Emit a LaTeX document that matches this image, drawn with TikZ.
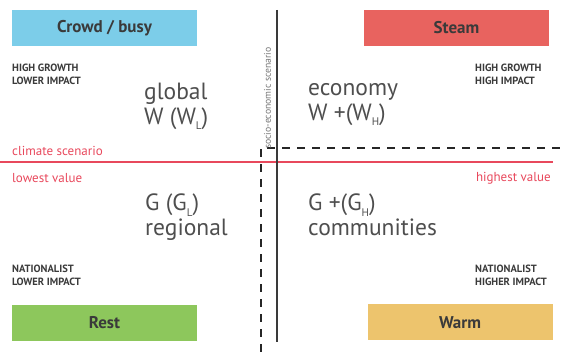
\documentclass[tikz,border=0pt]{standalone}
\usepackage{fontspec}
\setmainfont{PT Sans}
\definecolor{CrowdBlue}{HTML}{7CCDE9}
\definecolor{SteamRed}{HTML}{E8635F}
\definecolor{RestGreen}{HTML}{8DC75C}
\definecolor{WarmGold}{HTML}{EDC46D}
\definecolor{Ink}{HTML}{3A3A3A}
\definecolor{Climate}{HTML}{E8485C}
\usetikzlibrary{positioning}
\newcommand{\lowsub}[1]{\raisebox{-0.45ex}{\fontsize{11}{11}\selectfont #1}}

\begin{document}
\begin{tikzpicture}[
  x=1pt,y=-1pt,
  scen/.style={minimum width=185pt,minimum height=36pt,inner sep=0pt,
    text=Ink,font=\fontsize{17}{19}\selectfont\bfseries},
  tag/.style={anchor=west,align=left,inner sep=0pt,text=Ink,
    font=\fontsize{10.5}{13}\selectfont\bfseries},
  big/.style={anchor=north west,align=left,inner sep=0pt,text=Ink!90,
    font=\fontsize{23.5}{25}\selectfont},
  redlabel/.style={anchor=west,inner sep=0pt,text=Climate,
    font=\fontsize{13}{15}\selectfont},
  axis/.style={line width=1.3pt,draw=Ink},
  climate/.style={line width=1.2pt,draw=Climate},
  split/.style={line width=1.6pt,draw=black!85,dash pattern=on 8pt off 7pt}
]
\useasboundingbox (0,0) rectangle (566,352);
% four scenario boxes in the corners
\node[scen,fill=CrowdBlue] (crowd) at (104.5,28) {Crowd / busy};
\node[scen,fill=SteamRed] (steam) at (456.5,28) {Steam};
\node[scen,fill=RestGreen] (rest) at (104.5,323) {Rest};
\node[scen,fill=WarmGold] (warm) at (460,322.5) {Warm};

% corner tags
\node[tag] (tagnw) at (12,74) {HIGH GROWTH\\LOWER IMPACT};
\node[tag] (tagne) at (475,74) {HIGH GROWTH\\HIGH IMPACT};
\node[tag] (tagsw) at (12,275.5) {NATIONALIST\\LOWER IMPACT};
\node[tag] (tagse) at (475,275.5) {NATIONALIST\\HIGHER IMPACT};

% quadrant names
\node[big] (global) at (144,83) {global\\W (W\lowsub{L})};
\node[big] (economy) at (308,83) {economy\\W +(W\lowsub{H})};
\node[big] (regional) at (145,194) {G (G\lowsub{L})\\regional};
\node[big] (communities) at (308,194) {G +(G\lowsub{H})\\communities};

% axes
\coordinate (axtop) at (277,10);
\coordinate (axbot) at (277,342);
\coordinate (clleft) at (0,162);
\coordinate (clright) at (553,162);
\coordinate (dsbot) at (261,352);
\coordinate (dscorner) at (261,148);
\coordinate (dsright) at (566,148);
\draw[climate] (clleft) -- (clright);
\draw[axis] (axtop) -- (axbot);
\draw[split] (dsbot) -- (dscorner) -- (dsright);

\node[redlabel] (climlabel) at (12,151) {climate scenario};
\node[redlabel] (lowest) at (12,178) {lowest value};
\node[redlabel,anchor=east] (highest) at (551,178) {highest value};
\node[rotate=90,anchor=west,inner sep=0pt,text=Ink!70,
  font=\fontsize{9.7}{11}\selectfont] (socio) at (267.5,149) {socio-economic scenario};
\end{tikzpicture}
\end{document}
